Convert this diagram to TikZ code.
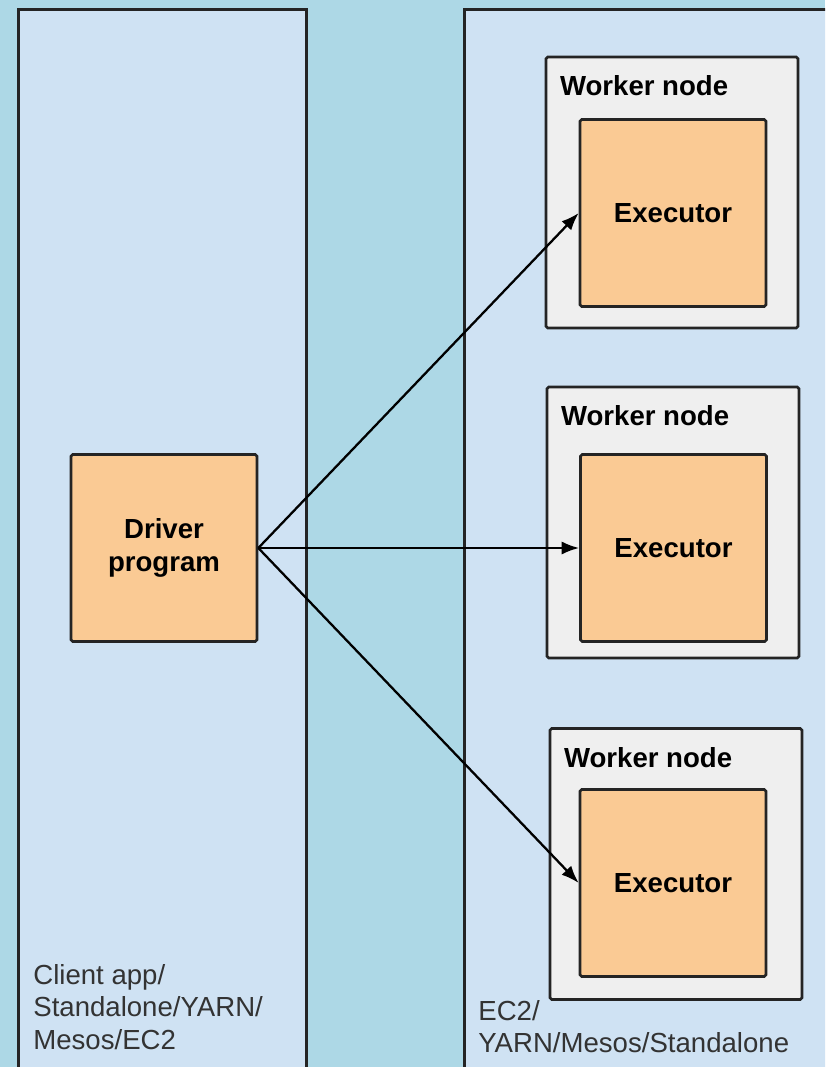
\documentclass[tikz,border=0pt]{standalone}
\usepackage{fontspec}
\setmainfont{Liberation Sans}
\usetikzlibrary{shapes, arrows.meta, positioning}
\definecolor{skyback}{RGB}{173,216,230}
\definecolor{panelblue}{RGB}{207,226,243}
\definecolor{workergray}{RGB}{239,239,239}
\definecolor{execorange}{RGB}{250,202,148}
\definecolor{edge}{RGB}{36,36,36}
\definecolor{labelgray}{RGB}{51,51,51}
\newcommand{\labelsize}{\fontsize{15.7}{18.4}\selectfont}
\tikzstyle{panel} = [rectangle, draw = edge, fill = panelblue, line width = 1.7pt, anchor = north west]
\tikzstyle{worker} = [rectangle, draw = edge, fill = workergray, line width = 1.5pt, minimum width = 5.04cm, minimum height = 5.42cm, rounded corners = 1pt]
\tikzstyle{block} = [rectangle, draw = edge, fill = execorange, line width = 1.5pt, minimum width = 3.72cm, minimum height = 3.74cm, rounded corners = 1pt, align = center, font = \labelsize\bfseries]
\tikzstyle{workerlabel} = [anchor = base west, inner sep = 0, font = \labelsize\bfseries]
\tikzstyle{hostlabel} = [anchor = north west, inner sep = 0, align = left, text = labelgray, font = \labelsize]
\tikzstyle{line2} = [draw, line width = 1.3pt, -{Latex[length = 10pt, width = 7.5pt]}]

\begin{document}
\begin{tikzpicture}
			\useasboundingbox (0, 0) rectangle (16.5, -21.34);
			\fill [skyback] (0, 0) rectangle (16.5, -21.34);
			\clip (0, 0) rectangle (16.5, -21.34);

			% Place nodes
			\node [panel, minimum width = 5.76cm, minimum height = 22cm] (client) at (0.34, -0.16) {};
			\node [panel, minimum width = 8cm, minimum height = 22cm] (cluster) at (9.26, -0.16) {};
			\node [worker] (w1) at (13.44, -3.85) {};
			\node [worker] (w2) at (13.46, -10.45) {};
			\node [worker] (w3) at (13.52, -17.28) {};
			\node [block] (e1) at (13.46, -4.26) {Executor};
			\node [block] (e2) at (13.47, -10.96) {Executor};
			\node [block] (e3) at (13.46, -17.66) {Executor};
			\node [block] (driver) at (3.28, -10.96) {Driver\\program};

			% Labels
			\node [workerlabel, below right = 0.8cm and 0.3cm of w1.north west, anchor = base west] (w1label) {Worker node};
			\node [workerlabel, below right = 0.8cm and 0.3cm of w2.north west, anchor = base west] (w2label) {Worker node};
			\node [workerlabel, below right = 0.8cm and 0.3cm of w3.north west, anchor = base west] (w3label) {Worker node};
			\node [hostlabel] (clientlabel) at (0.66, -19.28) {Client app/\\Standalone/YARN/\\Mesos/EC2};
			\node [hostlabel] (clusterlabel) at (9.56, -20.0) {EC2/\\YARN/Mesos/Standalone};

			% Draw edges
			\path [line2] (driver.east) -- (e1.west);
			\path [line2] (driver.east) -- (e2.west);
			\path [line2] (driver.east) -- (e3.west);
		\end{tikzpicture}
\end{document}
